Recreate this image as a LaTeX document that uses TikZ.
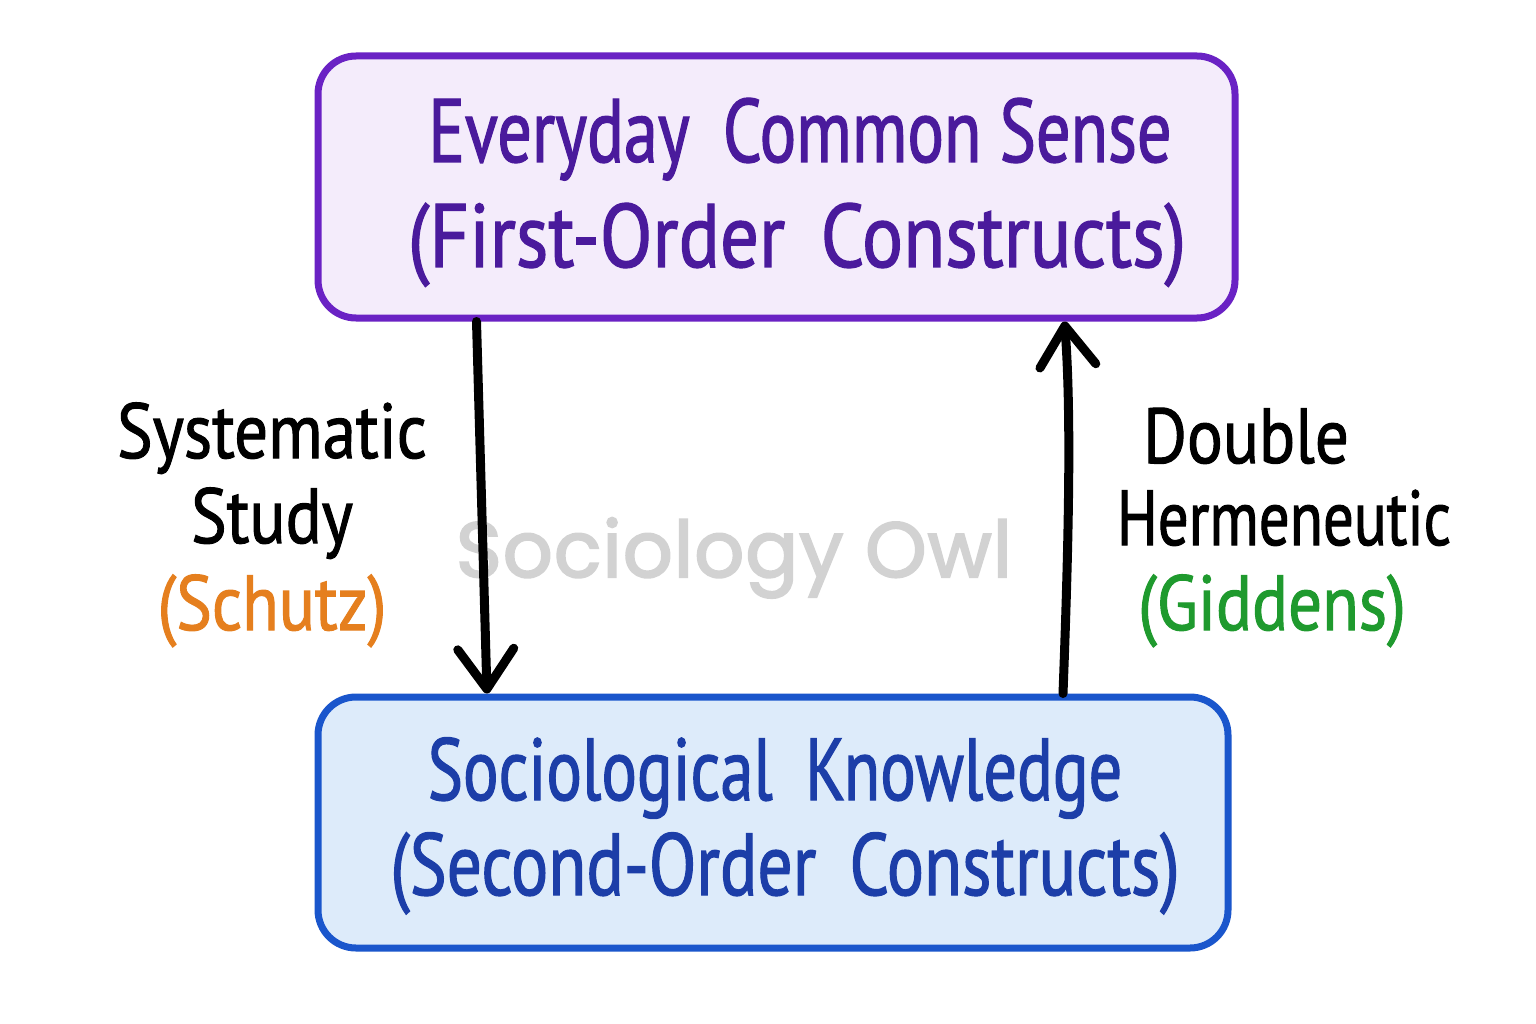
\documentclass[tikz,border=0pt]{standalone}
\usepackage{fontspec}
\setmainfont{PT Sans}[FakeStretch=0.86,FakeBold=1.3]
\newfontfamily\boxfont{PT Sans}[FakeStretch=0.79,FakeBold=1.3]
\newfontfamily\wmfont{Poppins}[FakeBold=2.6,LetterSpace=1.5]
\usetikzlibrary{arrows.meta}
\definecolor{pborder}{HTML}{6A22C4}
\definecolor{pfill}{HTML}{F4ECFB}
\definecolor{ptext}{HTML}{4A1A9C}
\definecolor{bborder}{HTML}{1A56CC}
\definecolor{bfill}{HTML}{DDEBFA}
\definecolor{btext}{HTML}{1C3EA8}
\definecolor{orangelbl}{HTML}{E57F1E}
\definecolor{greenlbl}{HTML}{1F9A2E}
\definecolor{wmgrey}{HTML}{D2D2D2}
\tikzset{
  box/.style={draw, line width=7pt, rounded corners=38pt, align=center, inner sep=0pt},
  boxtext/.style={anchor=base, inner sep=0pt},
  lbl/.style={anchor=base, inner sep=0pt, font=\fontsize{78}{86}\selectfont},
  flow/.style={line width=9pt, line cap=round, -{Straight Barb[length=40pt,width=56pt,line join=round,line cap=round]}},
}
\begin{document}
\begin{tikzpicture}[x=1pt,y=-1pt]
\useasboundingbox[fill=white] (0,0) rectangle (1536,1024);
\node[box, fill=pfill, draw=pborder, minimum width=917pt, minimum height=262pt] (top) at (776.5,187) {};
\node[box, fill=bfill, draw=bborder, minimum width=910pt, minimum height=251pt] (bot) at (773,822.5) {};
\node[boxtext, text=ptext, font=\boxfont\fontsize{90}{104}\selectfont\addfontfeature{FakeStretch=0.76}] (t1) at (800,162) {Everyday\, Common Sense};
\node[boxtext, text=ptext, font=\boxfont\fontsize{90}{104}\selectfont\addfontfeature{FakeStretch=0.855}] (t2) at (797,267) {(First-Order\, Constructs)};
\node[boxtext, text=btext, font=\boxfont\fontsize{88}{104}\selectfont\addfontfeature{FakeStretch=0.755}] (b1) at (775,800) {Sociological\, Knowledge};
\node[boxtext, text=btext, font=\boxfont\fontsize{88}{104}\selectfont] (b2) at (785,895) {(Second-Order\, Constructs)};
\node[anchor=base, inner sep=0pt, text=wmgrey, font=\wmfont\fontsize{78}{80}\selectfont] (wm) at (734,577) {Sociology Owl};
\draw[flow] ([xshift=-300pt]top.south) -- ([xshift=-286pt]bot.north);
\draw[flow] ([xshift=290pt]bot.north) .. controls (1068,560) and (1072,420) .. ([xshift=288pt]top.south);
\node[lbl] (l1) at (272,458) {Systematic};
\node[lbl] (l2) at (272,543) {Study};
\node[lbl, text=orangelbl] (l3) at (272,630) {(Schutz)};
\node[lbl] (r1) at (1246,463) {Double};
\node[lbl, font=\fontsize{78}{86}\selectfont\addfontfeature{FakeStretch=0.78}] (r2) at (1284,545) {Hermeneutic};
\node[lbl, text=greenlbl] (r3) at (1272,630) {(Giddens)};
\end{tikzpicture}
\end{document}
